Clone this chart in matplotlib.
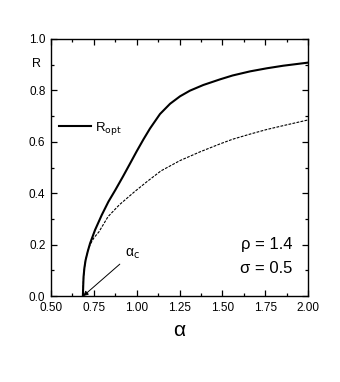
import numpy as np
import matplotlib
matplotlib.use("Agg")
import matplotlib.pyplot as plt
from matplotlib.ticker import MultipleLocator, FormatStrFormatter

plt.rcParams['font.family'] = ['Liberation Sans', 'DejaVu Sans']

# curve values
alpha_opt = [0.686, 0.688, 0.690, 0.695, 0.702, 0.715, 0.728, 0.757, 0.796, 0.835,
             0.875, 0.920, 0.961, 1.000, 1.040, 1.078, 1.136, 1.195, 1.253, 1.311,
             1.389, 1.487, 1.560, 1.662, 1.760, 1.856, 2.0]
R_opt = [0.0, 0.04, 0.075, 0.11, 0.140, 0.175, 0.205, 0.257, 0.315, 0.367,
         0.412, 0.465, 0.515, 0.563, 0.610, 0.652, 0.708, 0.748, 0.777, 0.799,
         0.821, 0.843, 0.858, 0.874, 0.886, 0.896, 0.908]

alpha_dash = [0.686, 0.688, 0.690, 0.695, 0.702, 0.715, 0.728, 0.750, 0.780, 0.833,
              0.899, 0.986, 1.060, 1.142, 1.253, 1.370, 1.487, 1.560, 1.662, 1.760,
              1.856, 2.0]
R_dash = [0.0, 0.04, 0.075, 0.11, 0.140, 0.175, 0.200, 0.226, 0.250, 0.309,
          0.355, 0.405, 0.445, 0.487, 0.527, 0.561, 0.592, 0.610, 0.630, 0.648,
          0.663, 0.685]

alpha_c = 0.688

fig = plt.figure(figsize=(3.4, 3.82), dpi=100)
ax = fig.add_axes([0.15, 0.225, 0.756, 0.673])

ax.plot(alpha_opt, R_opt, color='black', lw=1.5, label='R$_{\\rm opt}$')
ax.plot(alpha_dash, R_dash, color='black', lw=0.8, ls=(0, (2.5, 1.2)))

ax.set_xlim(0.5, 2.0)
ax.set_ylim(0.0, 1.0)
ax.xaxis.set_major_locator(MultipleLocator(0.25))
ax.xaxis.set_minor_locator(MultipleLocator(0.125))
ax.yaxis.set_major_locator(MultipleLocator(0.2))
ax.yaxis.set_minor_locator(MultipleLocator(0.1))
ax.xaxis.set_major_formatter(FormatStrFormatter('%.2f'))
ax.yaxis.set_major_formatter(FormatStrFormatter('%.1f'))
ax.tick_params(which='both', direction='in', top=True, right=True, labelsize=8.5, width=0.9)
ax.tick_params(which='major', length=4)
ax.tick_params(axis='x', which='major', pad=4.5)
ax.tick_params(axis='y', which='major', pad=4)
ax.tick_params(which='minor', length=2.5)
for s in ax.spines.values():
    s.set_linewidth(1.0)

ax.set_xlabel('α', fontsize=15, labelpad=5)
ax.set_ylabel('R', fontsize=9, rotation=0)
ax.yaxis.set_label_coords(-0.055, 0.88)

leg = ax.legend(loc='upper left', bbox_to_anchor=(0.0, 0.715), frameon=False,
                handlelength=2.4, handletextpad=0.3, fontsize=9.5, borderaxespad=0.2)

ax.annotate('α$_{\\rm c}$', xy=(alpha_c, 0.0), xytext=(0.93, 0.155), fontsize=10,
            arrowprops=dict(arrowstyle='-|>', color='black', lw=0.7, mutation_scale=7,
                            shrinkA=2, shrinkB=0))

ax.text(0.94, 0.183, 'ρ = 1.4', transform=ax.transAxes, ha='right', fontsize=12)
ax.text(0.94, 0.09, 'σ = 0.5', transform=ax.transAxes, ha='right', fontsize=12)

plt.savefig('out.png', dpi=100)
